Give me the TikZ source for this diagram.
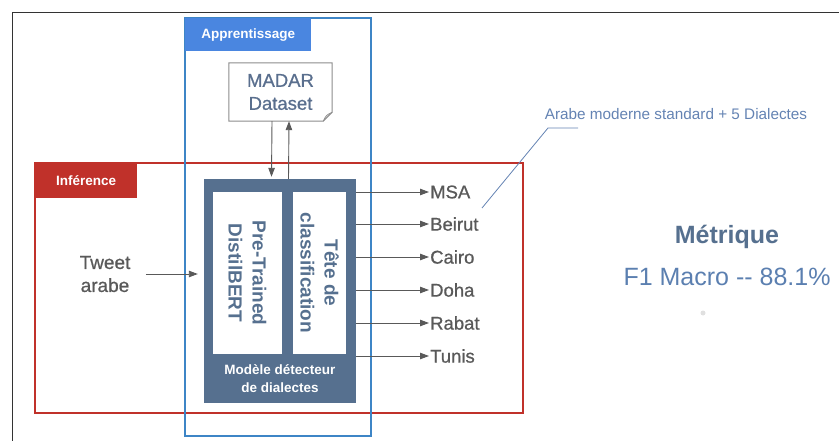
\documentclass[tikz,border=0pt]{standalone}
\usepackage{fontspec}
\setmainfont{Liberation Sans}
\newfontfamily\mediumfont[FakeBold=0.8]{Liberation Sans}
\usetikzlibrary{arrows.meta}
\definecolor{slate}{HTML}{56708F}
\definecolor{slatetext}{HTML}{5A6F8E}
\definecolor{learnblue}{HTML}{4A86E0}
\definecolor{learnedge}{HTML}{3D85C6}
\definecolor{infred}{HTML}{C0312A}
\definecolor{labgray}{HTML}{595959}
\definecolor{notecol}{HTML}{6483B3}
\definecolor{scorecol}{HTML}{5B7FB0}

\begin{document}
\begin{tikzpicture}[x=1pt,y=1pt,
    arr/.style={draw=labgray, line width=0.9pt, -{Triangle[length=9pt,width=6.5pt]}},
    tag/.style={anchor=north west, text=white, inner sep=0pt, font=\bfseries\fontsize{13.5}{16}\selectfont},
    outlab/.style={anchor=west, text=labgray, inner sep=1pt, font=\mediumfont\fontsize{18.5}{22}\selectfont},
    inbox/.style={fill=white, rotate=-90, align=center, text=slate, inner sep=0pt,
      font=\bfseries\fontsize{19}{24}\selectfont}]
  \useasboundingbox (0,0) rectangle (839,-441);
  % slide frame
  \draw[black!80, line width=0.8pt] (12,-441) -- (12,-12) -- (839,-12);

  % inference area
  \draw[infred, line width=2.2pt] (35,-163) rectangle (523,-413);
  \node[tag, fill=infred, minimum width=102, minimum height=35] (inftag) at (35,-163) {Inférence};

  % training area
  \draw[learnedge, line width=1.8pt] (185,-18) rectangle (371,-436);
  \node[tag, fill=learnblue, minimum width=126, minimum height=33] (learntag) at (185,-18) {Apprentissage};

  % dataset sheet
  \node[align=center, text=slatetext, minimum width=103, minimum height=58,
    font=\mediumfont\fontsize{18.5}{23}\selectfont] (madar) at (280.5,-92) {MADAR\\Dataset};
  \draw[black!45, line width=1pt] (madar.north west) -- (madar.north east)
    -- ([yshift=9]madar.south east) -- ([xshift=-9]madar.south east)
    -- (madar.south west) -- cycle;
  \draw[black!45, line width=0.8pt] ([xshift=-9]madar.south east)
    .. controls ([xshift=-6,yshift=6]madar.south east) .. ([yshift=9]madar.south east);

  % model
  \node[fill=slate, minimum width=152, minimum height=224, inner sep=0pt] (model) at (280,-291) {};
  \node[inbox, minimum width=162, minimum height=69] (bert) at (247.5,-273) {Pre-Trained\\DistilBERT};
  \node[inbox, minimum width=162, minimum height=53] (head) at (319.5,-273) {Tête de\\classification};
  \node[text=white, align=center, font=\bfseries\fontsize{13.5}{18}\selectfont] (modelname)
    at (280,-379) {Modèle détecteur\\de dialectes};

  \draw[arr] ([xshift=-8.5]madar.south) -- ([xshift=-8.5,yshift=2]model.north);
  \draw[arr] ([xshift=8.5]model.north) -- ([xshift=8.5]madar.south);

  % input
  \node[align=center, text=labgray, font=\mediumfont\fontsize{19}{23}\selectfont] (tweet) at (105,-274) {Tweet\\arabe};
  \draw[arr, shorten <=12pt, shorten >=6pt] (tweet.east) -- (model.west |- tweet.east);

  % outputs
  \foreach \name/\lab/\ypos in {msa/MSA/192, beirut/Beirut/224, cairo/Cairo/257,
      doha/Doha/290, rabat/Rabat/323, tunis/Tunis/356} {
    \node[outlab] (\name) at (429,-\ypos) {\lab};
    \draw[arr] (model.east |- \name.west) -- (\name.west);
  }

  % note
  \node[text=notecol, font=\fontsize{15.3}{18}\selectfont] (note) at (676,-114) {Arabe moderne standard + 5 Dialectes};
  \coordinate (bend) at (548,-128);
  \coordinate (notept) at (482,-208);
  \draw[notecol, line width=0.8pt] ([xshift=30]bend) -- (bend) -- (notept);

  % metric
  \node[text=slate, font=\bfseries\fontsize{25}{30}\selectfont] (metric) at (727,-237) {Métrique};
  \node[text=scorecol, font=\fontsize{25}{30}\selectfont] (score) at (727,-277) {F1 Macro -{}- 88.1\%};
  \fill[black!12] (703,-313) circle (2.5);
\end{tikzpicture}
\end{document}
